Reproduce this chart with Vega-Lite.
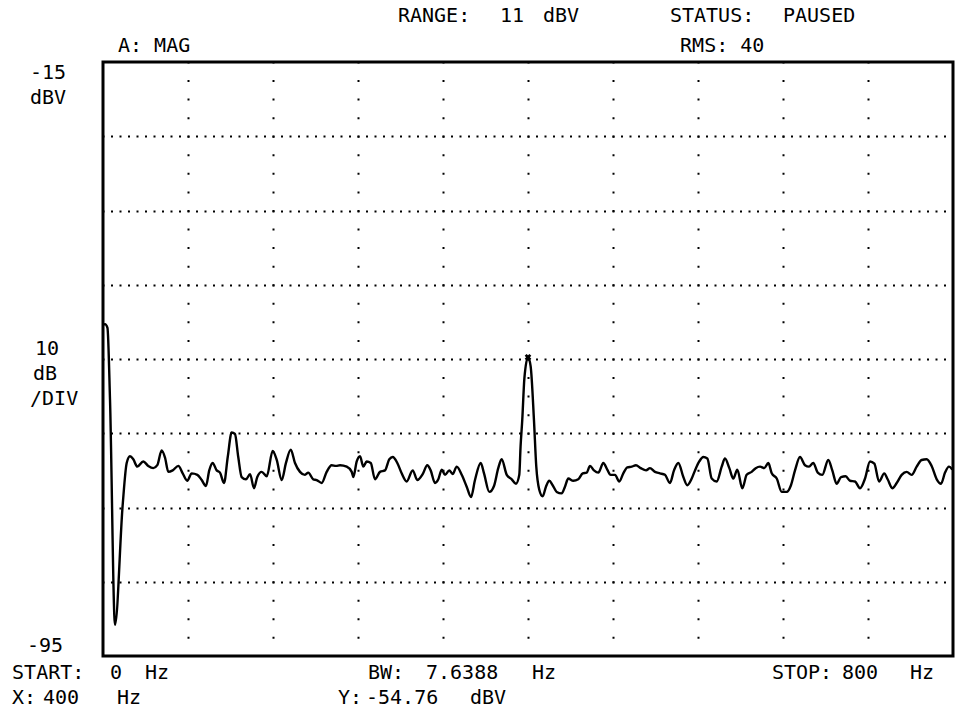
{
  "$schema": "https://vega.github.io/schema/vega-lite/v6.json",
  "width": 850,
  "height": 594,
  "autosize": {"type": "none"},
  "padding": {"left": 103, "top": 62, "right": 11, "bottom": 63},
  "background": "white",
  "data": {"values": [{}]},
  "config": {
    "view": {"stroke": "black", "strokeWidth": 3},
    "text": {"font": "DejaVu Sans Mono", "fontSize": 20, "align": "left", "baseline": "alphabetic", "color": "black"},
    "axis": {"labels": false, "ticks": false, "domain": false, "title": null, "gridColor": "black", "gridOpacity": 1, "gridWidth": 2, "gridDashOffset": 1}
  },
  "datasets": {
    "trace": [
      {"hz": 0, "dbv": -50.4}, {"hz": 1.9, "dbv": -50.3}, {"hz": 4.2, "dbv": -50.8}, {"hz": 6.6, "dbv": -60.5},
      {"hz": 11.3, "dbv": -90.8}, {"hz": 18.5, "dbv": -74.7}, {"hz": 22.3, "dbv": -69.0}, {"hz": 25.4, "dbv": -68.1},
      {"hz": 28.5, "dbv": -68.5}, {"hz": 32.3, "dbv": -69.5}, {"hz": 37.9, "dbv": -68.8}, {"hz": 42.6, "dbv": -69.4},
      {"hz": 47.3, "dbv": -69.7}, {"hz": 51.1, "dbv": -69.3}, {"hz": 55.2, "dbv": -67.3}, {"hz": 58.4, "dbv": -68.3},
      {"hz": 61.5, "dbv": -70.2}, {"hz": 65.6, "dbv": -70.0}, {"hz": 70.9, "dbv": -69.4}, {"hz": 75.0, "dbv": -70.4},
      {"hz": 79.3, "dbv": -71.4}, {"hz": 83.5, "dbv": -70.4}, {"hz": 88.8, "dbv": -70.6}, {"hz": 92.9, "dbv": -71.3},
      {"hz": 96.9, "dbv": -72.1}, {"hz": 100.0, "dbv": -70.0}, {"hz": 103.2, "dbv": -69.0}, {"hz": 107.0, "dbv": -70.0},
      {"hz": 110.1, "dbv": -70.3}, {"hz": 113.9, "dbv": -71.7}, {"hz": 117.4, "dbv": -68.2}, {"hz": 121.1, "dbv": -64.9},
      {"hz": 124.2, "dbv": -65.1}, {"hz": 127.3, "dbv": -68.2}, {"hz": 130.5, "dbv": -70.9}, {"hz": 134.6, "dbv": -71.2},
      {"hz": 138.4, "dbv": -70.5}, {"hz": 142.1, "dbv": -72.4}, {"hz": 145.2, "dbv": -70.9}, {"hz": 149.4, "dbv": -70.2},
      {"hz": 154.1, "dbv": -70.8}, {"hz": 159.7, "dbv": -67.4}, {"hz": 163.5, "dbv": -68.6}, {"hz": 168.2, "dbv": -71.3},
      {"hz": 172.2, "dbv": -69.0}, {"hz": 176.7, "dbv": -67.2}, {"hz": 180.7, "dbv": -69.0}, {"hz": 185.4, "dbv": -70.2},
      {"hz": 190.1, "dbv": -70.6}, {"hz": 193.2, "dbv": -70.3}, {"hz": 197.9, "dbv": -71.2}, {"hz": 201.1, "dbv": -71.3},
      {"hz": 205.8, "dbv": -71.7}, {"hz": 210.5, "dbv": -70.2}, {"hz": 215.2, "dbv": -69.3}, {"hz": 219.3, "dbv": -69.4},
      {"hz": 223.1, "dbv": -69.3}, {"hz": 229.4, "dbv": -69.5}, {"hz": 234.1, "dbv": -70.2}, {"hz": 235.6, "dbv": -70.9},
      {"hz": 238.8, "dbv": -68.8}, {"hz": 241.9, "dbv": -68.1}, {"hz": 245.0, "dbv": -69.5}, {"hz": 248.2, "dbv": -68.8},
      {"hz": 252.0, "dbv": -69.0}, {"hz": 256.0, "dbv": -71.2}, {"hz": 260.7, "dbv": -70.2}, {"hz": 265.4, "dbv": -70.0},
      {"hz": 269.5, "dbv": -68.5}, {"hz": 272.7, "dbv": -68.2}, {"hz": 277.0, "dbv": -69.0}, {"hz": 281.1, "dbv": -70.4},
      {"hz": 285.8, "dbv": -71.5}, {"hz": 291.5, "dbv": -70.0}, {"hz": 295.8, "dbv": -71.3}, {"hz": 300.9, "dbv": -70.5},
      {"hz": 305.2, "dbv": -69.3}, {"hz": 308.4, "dbv": -70.0}, {"hz": 312.5, "dbv": -71.7}, {"hz": 315.6, "dbv": -71.2},
      {"hz": 318.8, "dbv": -69.9}, {"hz": 321.9, "dbv": -70.6}, {"hz": 325.9, "dbv": -70.0}, {"hz": 329.1, "dbv": -70.5},
      {"hz": 332.9, "dbv": -69.5}, {"hz": 337.6, "dbv": -70.6}, {"hz": 342.3, "dbv": -72.2}, {"hz": 346.4, "dbv": -73.6},
      {"hz": 350.1, "dbv": -71.3}, {"hz": 355.5, "dbv": -69.0}, {"hz": 358.6, "dbv": -70.4}, {"hz": 363.6, "dbv": -72.9},
      {"hz": 368.0, "dbv": -72.1}, {"hz": 372.0, "dbv": -69.7}, {"hz": 375.2, "dbv": -68.5}, {"hz": 380.0, "dbv": -70.6},
      {"hz": 384.7, "dbv": -71.2}, {"hz": 388.7, "dbv": -71.8}, {"hz": 391.8, "dbv": -70.6}, {"hz": 393.0, "dbv": -66.8},
      {"hz": 394.6, "dbv": -63.2}, {"hz": 396.6, "dbv": -57.6}, {"hz": 400.0, "dbv": -54.76}, {"hz": 402.5, "dbv": -56.0},
      {"hz": 405.6, "dbv": -63.2}, {"hz": 407.8, "dbv": -69.5}, {"hz": 410.6, "dbv": -72.6}, {"hz": 413.8, "dbv": -73.5},
      {"hz": 416.9, "dbv": -72.2}, {"hz": 420.0, "dbv": -71.4}, {"hz": 423.2, "dbv": -72.0}, {"hz": 427.0, "dbv": -72.9},
      {"hz": 431.7, "dbv": -73.1}, {"hz": 434.8, "dbv": -72.2}, {"hz": 437.9, "dbv": -71.1}, {"hz": 442.6, "dbv": -71.4},
      {"hz": 447.3, "dbv": -71.2}, {"hz": 451.5, "dbv": -70.4}, {"hz": 455.2, "dbv": -70.3}, {"hz": 458.4, "dbv": -69.4},
      {"hz": 462.1, "dbv": -70.0}, {"hz": 466.2, "dbv": -70.3}, {"hz": 470.9, "dbv": -69.0}, {"hz": 474.6, "dbv": -69.9},
      {"hz": 477.8, "dbv": -70.6}, {"hz": 481.9, "dbv": -70.6}, {"hz": 485.9, "dbv": -71.5}, {"hz": 489.7, "dbv": -70.4},
      {"hz": 493.5, "dbv": -69.6}, {"hz": 497.6, "dbv": -69.5}, {"hz": 501.6, "dbv": -69.3}, {"hz": 506.1, "dbv": -69.7},
      {"hz": 511.1, "dbv": -70.0}, {"hz": 514.8, "dbv": -69.7}, {"hz": 519.5, "dbv": -70.2}, {"hz": 524.2, "dbv": -70.4},
      {"hz": 528.9, "dbv": -70.6}, {"hz": 533.6, "dbv": -71.7}, {"hz": 537.4, "dbv": -70.0}, {"hz": 541.5, "dbv": -69.0},
      {"hz": 546.2, "dbv": -70.9}, {"hz": 549.9, "dbv": -72.0}, {"hz": 554.1, "dbv": -71.1}, {"hz": 557.2, "dbv": -70.0},
      {"hz": 561.2, "dbv": -68.8}, {"hz": 565.0, "dbv": -68.2}, {"hz": 568.8, "dbv": -68.4}, {"hz": 572.9, "dbv": -71.1},
      {"hz": 577.6, "dbv": -71.5}, {"hz": 582.3, "dbv": -69.5}, {"hz": 585.4, "dbv": -68.4}, {"hz": 589.5, "dbv": -69.7},
      {"hz": 593.2, "dbv": -71.1}, {"hz": 597.0, "dbv": -69.9}, {"hz": 601.7, "dbv": -72.4}, {"hz": 605.8, "dbv": -70.6},
      {"hz": 610.5, "dbv": -70.2}, {"hz": 614.3, "dbv": -69.7}, {"hz": 618.4, "dbv": -69.5}, {"hz": 622.4, "dbv": -69.7},
      {"hz": 626.2, "dbv": -69.0}, {"hz": 629.4, "dbv": -70.4}, {"hz": 634.1, "dbv": -71.1}, {"hz": 638.8, "dbv": -72.9},
      {"hz": 643.5, "dbv": -72.9}, {"hz": 647.5, "dbv": -72.0}, {"hz": 651.3, "dbv": -70.0}, {"hz": 656.0, "dbv": -68.2},
      {"hz": 660.7, "dbv": -69.3}, {"hz": 664.5, "dbv": -69.5}, {"hz": 668.5, "dbv": -69.0}, {"hz": 672.7, "dbv": -70.3},
      {"hz": 677.0, "dbv": -70.6}, {"hz": 682.6, "dbv": -68.6}, {"hz": 686.4, "dbv": -70.0}, {"hz": 690.5, "dbv": -71.8},
      {"hz": 694.6, "dbv": -70.9}, {"hz": 699.0, "dbv": -70.8}, {"hz": 703.1, "dbv": -71.4}, {"hz": 707.8, "dbv": -71.5},
      {"hz": 712.5, "dbv": -72.4}, {"hz": 717.2, "dbv": -71.1}, {"hz": 721.9, "dbv": -68.8}, {"hz": 726.0, "dbv": -69.1},
      {"hz": 730.4, "dbv": -71.5}, {"hz": 735.3, "dbv": -70.4}, {"hz": 738.5, "dbv": -71.2}, {"hz": 742.9, "dbv": -72.4},
      {"hz": 747.0, "dbv": -71.7}, {"hz": 751.7, "dbv": -70.6}, {"hz": 756.4, "dbv": -70.2}, {"hz": 761.1, "dbv": -70.6},
      {"hz": 765.8, "dbv": -69.5}, {"hz": 770.5, "dbv": -68.6}, {"hz": 775.2, "dbv": -68.5}, {"hz": 779.9, "dbv": -69.4},
      {"hz": 784.7, "dbv": -71.2}, {"hz": 788.7, "dbv": -71.8}, {"hz": 792.5, "dbv": -70.3}, {"hz": 796.2, "dbv": -69.5},
      {"hz": 799.3, "dbv": -69.9}
    ]
  },
  "layer": [
    {
      "data": {"name": "trace"},
      "mark": {"type": "line", "color": "black", "strokeWidth": 2.4, "interpolate": "monotone"},
      "encoding": {
        "x": {"field": "hz", "type": "quantitative", "scale": {"domain": [0, 800], "nice": false, "zero": false},
          "axis": {"values": [80, 160, 240, 320, 400, 480, 560, 640, 720], "grid": true, "gridDash": [2, 16.56]}},
        "y": {"field": "dbv", "type": "quantitative", "scale": {"domain": [-95, -15], "nice": false, "zero": false},
          "axis": {"values": [-25, -35, -45, -55, -65, -75, -85], "grid": true, "gridDash": [2, 6.5]}}
      }
    },
    {"mark": {"type": "point", "shape": "cross", "angle": 45, "size": 45, "filled": true, "color": "black", "opacity": 1},
      "encoding": {"x": {"datum": 400}, "y": {"datum": -54.76}}},

    {"mark": {"type": "text", "text": "RANGE:"}, "encoding": {"x": {"datum": 277.6}, "y": {"datum": -9.61}}},
    {"mark": {"type": "text", "text": "11"}, "encoding": {"x": {"datum": 373.6}, "y": {"datum": -9.61}}},
    {"mark": {"type": "text", "text": "dBV"}, "encoding": {"x": {"datum": 414.1}, "y": {"datum": -9.61}}},
    {"mark": {"type": "text", "text": "STATUS:"}, "encoding": {"x": {"datum": 533.6}, "y": {"datum": -9.61}}},
    {"mark": {"type": "text", "text": "PAUSED"}, "encoding": {"x": {"datum": 640.0}, "y": {"datum": -9.61}}},
    {"mark": {"type": "text", "text": "RMS: 40"}, "encoding": {"x": {"datum": 543.1}, "y": {"datum": -13.65}}},
    {"mark": {"type": "text", "text": "A: MAG"}, "encoding": {"x": {"datum": 14.1}, "y": {"datum": -13.65}}},

    {"mark": {"type": "text", "text": "-15"}, "encoding": {"x": {"datum": -68.7}, "y": {"datum": -17.29}}},
    {"mark": {"type": "text", "text": "dBV"}, "encoding": {"x": {"datum": -68.7}, "y": {"datum": -20.66}}},
    {"mark": {"type": "text", "text": "10"}, "encoding": {"x": {"datum": -64.0}, "y": {"datum": -54.46}}},
    {"mark": {"type": "text", "text": "dB"}, "encoding": {"x": {"datum": -65.9}, "y": {"datum": -57.83}}},
    {"mark": {"type": "text", "text": "/DIV"}, "encoding": {"x": {"datum": -68.7}, "y": {"datum": -61.19}}},
    {"mark": {"type": "text", "text": "-95"}, "encoding": {"x": {"datum": -71.5}, "y": {"datum": -94.46}}},

    {"mark": {"type": "text", "text": "START:"}, "encoding": {"x": {"datum": -85.6}, "y": {"datum": -98.1}}},
    {"mark": {"type": "text", "text": "0"}, "encoding": {"x": {"datum": 6.6}, "y": {"datum": -98.1}}},
    {"mark": {"type": "text", "text": "Hz"}, "encoding": {"x": {"datum": 39.5}, "y": {"datum": -98.1}}},
    {"mark": {"type": "text", "text": "BW:"}, "encoding": {"x": {"datum": 249.4}, "y": {"datum": -98.1}}},
    {"mark": {"type": "text", "text": "7.6388"}, "encoding": {"x": {"datum": 304.0}, "y": {"datum": -98.1}}},
    {"mark": {"type": "text", "text": "Hz"}, "encoding": {"x": {"datum": 403.8}, "y": {"datum": -98.1}}},
    {"mark": {"type": "text", "text": "STOP:"}, "encoding": {"x": {"datum": 629.6}, "y": {"datum": -98.1}}},
    {"mark": {"type": "text", "text": "800"}, "encoding": {"x": {"datum": 695.5}, "y": {"datum": -98.1}}},
    {"mark": {"type": "text", "text": "Hz"}, "encoding": {"x": {"datum": 759.5}, "y": {"datum": -98.1}}},

    {"mark": {"type": "text", "text": "X:"}, "encoding": {"x": {"datum": -85.6}, "y": {"datum": -101.46}}},
    {"mark": {"type": "text", "text": "400"}, "encoding": {"x": {"datum": -56.5}, "y": {"datum": -101.46}}},
    {"mark": {"type": "text", "text": "Hz"}, "encoding": {"x": {"datum": 13.2}, "y": {"datum": -101.46}}},
    {"mark": {"type": "text", "text": "Y:"}, "encoding": {"x": {"datum": 221.2}, "y": {"datum": -101.46}}},
    {"mark": {"type": "text", "text": "-54.76"}, "encoding": {"x": {"datum": 247.5}, "y": {"datum": -101.46}}},
    {"mark": {"type": "text", "text": "dBV"}, "encoding": {"x": {"datum": 345.4}, "y": {"datum": -101.46}}}
  ]
}
